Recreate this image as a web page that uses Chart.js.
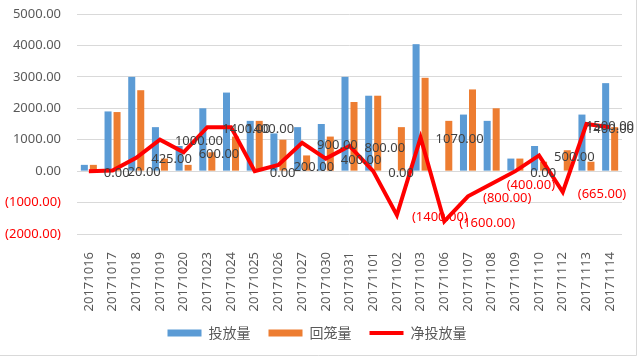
<!DOCTYPE html>
<html>
<head>
<meta charset="utf-8">
<script src="https://cdn.jsdelivr.net/npm/chart.js@4.4.1/dist/chart.umd.min.js"></script>
<style>
html,body{margin:0;padding:0;background:#fff;}
#wrap{width:640px;height:357px;position:relative;}
</style>
</head>
<body>
<div id="wrap"><canvas id="c" width="640" height="357"></canvas></div>
<script>
const categories = ['20171016','20171017','20171018','20171019','20171020','20171023','20171024','20171025','20171026','20171027','20171030','20171031','20171101','20171102','20171103','20171106','20171107','20171108','20171109','20171110','20171112','20171113','20171114'];
const issued    = [200,1900,3000,1400,800,2000,2500,1600,1200,1400,1500,3000,2400,0,4040,0,1800,1600,400,800,0,1800,2800];
const withdrawn = [200,1880,2575,400,200,600,1100,1600,1000,500,1100,2200,2400,1400,2970,1600,2600,2000,400,300,665,300,1400];
const netIssued = [0,20,425,1000,600,1400,1400,0,200,900,400,800,0,-1400,1070,-1600,-800,-400,0,500,-665,1500,1400];
const seriesNames = ['投放量','回笼量','净投放量'];
const yMin = -2000, yMax = 5000, yStep = 1000;

const RED = '#ff0000';
const GRAY = '#595959';
const FONT = '"Noto Sans", "Noto Sans CJK SC", sans-serif';

function fmt(v){
  return v < 0 ? '(' + Math.abs(v).toFixed(2) + ')' : v.toFixed(2);
}

const lineLabels = {
  id: 'lineLabels',
  afterDatasetsDraw(chart){
    const ctx = chart.ctx;
    const meta = chart.getDatasetMeta(2);
    const data = chart.data.datasets[2].data;
    ctx.save();
    ctx.font = '13px ' + FONT;
    ctx.textAlign = 'left';
    ctx.textBaseline = 'middle';
    meta.data.forEach((pt, i) => {
      const v = data[i];
      const t = fmt(v);
      const w = ctx.measureText(t).width;
      let x = pt.x + 15;
      if (x + w > 634) x = 634 - w;
      ctx.fillStyle = v < 0 ? RED : '#404040';
      ctx.fillText(t, x, pt.y + 2);
    });
    ctx.restore();
  }
};

const frame = {
  id: 'frame',
  afterLayout(chart){
    if (chart.legend) {
      chart.legend.left = 12;
      chart.legend.top -= 6;
    }
  },
  beforeDraw(chart){
    const ctx = chart.ctx;
    ctx.save();
    ctx.fillStyle = '#fff';
    ctx.fillRect(0,0,chart.width,chart.height);
    ctx.restore();
  },
  afterDraw(chart){
    const ctx = chart.ctx;
    ctx.save();
    ctx.strokeStyle = '#d9d9d9';
    ctx.lineWidth = 1;
    ctx.beginPath();
    ctx.moveTo(636.5, 0);
    ctx.lineTo(636.5, 355.5);
    ctx.lineTo(0, 355.5);
    ctx.stroke();
    ctx.restore();
  }
};

new Chart(document.getElementById('c'), {
  data: {
    labels: categories,
    datasets: [
      { type:'bar', label: seriesNames[0], data: issued, backgroundColor:'#5b9bd5', order:2,
        categoryPercentage:0.76, barPercentage:0.78 },
      { type:'bar', label: seriesNames[1], data: withdrawn, backgroundColor:'#ed7d31', order:2,
        categoryPercentage:0.76, barPercentage:0.78 },
      { type:'line', label: seriesNames[2], data: netIssued, borderColor:RED, backgroundColor:RED,
        borderWidth:4, pointRadius:0, tension:0, order:1, borderJoinStyle:'miter' }
    ]
  },
  options: {
    responsive:false,
    animation:false,
    devicePixelRatio:1,
    layout:{ padding:{ left:0, right:18, top:14, bottom:1 } },
    plugins:{
      tooltip:{ enabled:false },
      legend:{
        position:'bottom',
        labels:{
          boxWidth:34, boxHeight:7, padding:18,
          usePointStyle:true, pointStyleWidth:34,
          color:GRAY,
          font:{ family:'"Noto Sans CJK SC", sans-serif', size:14 },
          generateLabels(chart){
            const items = Chart.defaults.plugins.legend.labels.generateLabels(chart);
            items.forEach(it => {
              if (it.datasetIndex === 2) {
                it.pointStyle = 'line'; it.lineWidth = 4; it.strokeStyle = RED; it.fillStyle = RED;
              } else {
                it.pointStyle = 'rect'; it.lineWidth = 0;
              }
            });
            return items.sort((a,b)=>a.datasetIndex-b.datasetIndex);
          }
        }
      }
    },
    scales:{
      x:{
        grid:{ display:false },
        border:{ display:false },
        ticks:{ minRotation:90, maxRotation:90, autoSkip:false, padding:10, color:GRAY,
                font:{ family:FONT, size:13 } },
        afterFit(scale){ scale.height = 80; scale.paddingLeft = 0; scale.paddingRight = 0; }
      },
      y:{
        min:yMin, max:yMax,
        grid:{ color:'#d9d9d9', drawTicks:false },
        border:{ display:false },
        ticks:{ stepSize:yStep, padding:16,
                color:(c)=> c.tick && c.tick.value < 0 ? RED : GRAY,
                font:{ family:FONT, size:13 },
                callback:(v)=>fmt(v) },
        afterFit(scale){ scale.width = 77; scale.paddingTop = 0; scale.paddingBottom = 0; }
      }
    }
  },
  plugins:[frame, lineLabels]
});
</script>
</body>
</html>
